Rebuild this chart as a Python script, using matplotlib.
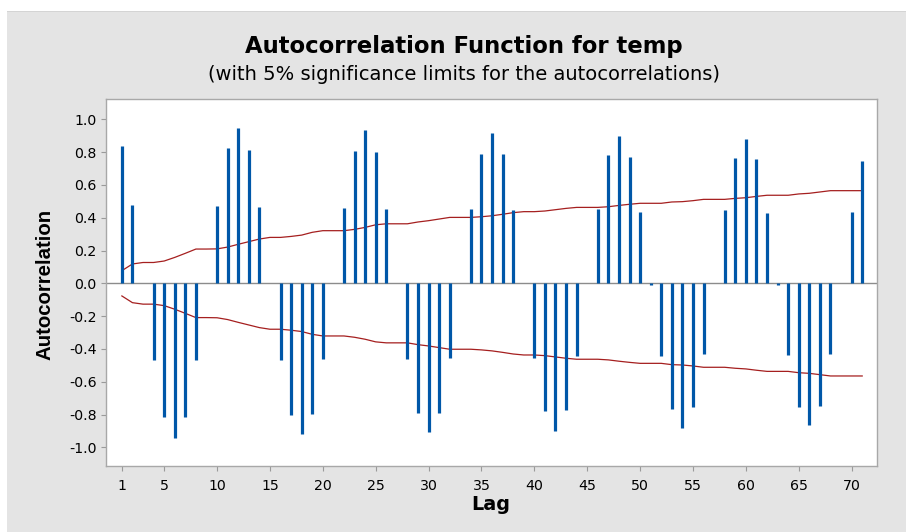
import numpy as np
import matplotlib
matplotlib.use("Agg")
import matplotlib.pyplot as plt
from matplotlib.patches import Rectangle

lags = np.arange(1, 72)
acf = [0.839, 0.477, 0.005, -0.468, -0.813, -0.941, -0.813, -0.468, 0.005, 0.471,
       0.823, 0.949, 0.815, 0.463, 0.005, -0.468, -0.805, -0.921, -0.797, -0.462,
       0.003, 0.461, 0.807, 0.933, 0.799, 0.453, 0.003, -0.462, -0.789, -0.909,
       -0.789, -0.453, 0.003, 0.453, 0.790, 0.915, 0.790, 0.445, 0.002, -0.453,
       -0.781, -0.899, -0.773, -0.445, 0.002, 0.453, 0.782, 0.898, 0.772, 0.435,
       -0.008, -0.445, -0.765, -0.882, -0.754, -0.429, 0.002, 0.445, 0.764, 0.882,
       0.756, 0.427, -0.008, -0.437, -0.754, -0.864, -0.746, -0.429, 0.002, 0.435,
       0.748]
upper = [0.077, 0.118, 0.127, 0.127, 0.136, 0.158, 0.183, 0.209, 0.209, 0.210,
         0.221, 0.238, 0.254, 0.270, 0.280, 0.280, 0.286, 0.294, 0.311, 0.321,
         0.321, 0.321, 0.329, 0.341, 0.357, 0.363, 0.363, 0.363, 0.374, 0.382,
         0.392, 0.402, 0.402, 0.402, 0.406, 0.412, 0.421, 0.431, 0.437, 0.437,
         0.441, 0.449, 0.457, 0.463, 0.463, 0.463, 0.467, 0.475, 0.482, 0.488,
         0.488, 0.488, 0.496, 0.498, 0.504, 0.512, 0.512, 0.512, 0.518, 0.522,
         0.530, 0.537, 0.537, 0.537, 0.545, 0.549, 0.557, 0.565, 0.565, 0.565,
         0.565]
lower = [-0.077, -0.118, -0.127, -0.127, -0.136, -0.158, -0.183, -0.209, -0.209, -0.210,
         -0.221, -0.238, -0.254, -0.270, -0.280, -0.280, -0.286, -0.294, -0.311, -0.321,
         -0.321, -0.321, -0.329, -0.341, -0.357, -0.363, -0.363, -0.363, -0.374, -0.382,
         -0.392, -0.402, -0.402, -0.402, -0.406, -0.412, -0.421, -0.431, -0.437, -0.437,
         -0.441, -0.449, -0.457, -0.463, -0.463, -0.463, -0.467, -0.475, -0.482, -0.488,
         -0.488, -0.488, -0.496, -0.498, -0.504, -0.512, -0.512, -0.512, -0.518, -0.522,
         -0.530, -0.537, -0.537, -0.537, -0.545, -0.549, -0.557, -0.565, -0.565, -0.565,
         -0.565]
xticks = [1, 5, 10, 15, 20, 25, 30, 35, 40, 45, 50, 55, 60, 65, 70]
yticks = [1.0, 0.8, 0.6, 0.4, 0.2, 0.0, -0.2, -0.4, -0.6, -0.8, -1.0]

W, H = 906, 532
fig = plt.figure(figsize=(W / 100, H / 100), dpi=100)
fig.patch.set_facecolor("white")
fig.patches.append(Rectangle((7 / W, 0), 1 - 7 / W, 1 - 11 / H, transform=fig.transFigure,
                             facecolor="#e4e4e4", edgecolor="none", zorder=-10))
fig.patches.append(Rectangle((7 / W, 1 - 12 / H), 1 - 7 / W, 1.2 / H, transform=fig.transFigure,
                             facecolor="#d4d4d4", edgecolor="none", zorder=-9))

ax = fig.add_axes([106 / W, 1 - 466 / H, (877 - 106) / W, (466 - 99) / H])
ax.set_facecolor("white")

ax.axhline(0, color="#8c8c8c", lw=1.0, zorder=1)
ax.vlines(lags, 0, acf, colors="#0057a8", lw=2.3, zorder=3)
ax.plot(lags, upper, color="#a51f1f", lw=0.9, zorder=2)
ax.plot(lags, lower, color="#a51f1f", lw=0.9, zorder=2)

ax.set_xlim(-0.5, 72.4)
ax.set_ylim(-1.114, 1.124)
ax.set_xticks(xticks)
ax.set_xticklabels([str(t) for t in xticks])
ax.set_yticks(yticks)
ax.set_yticklabels([f"{t:.1f}" for t in yticks])

for s in ax.spines.values():
    s.set_color("#a8a8a8")
    s.set_linewidth(1.0)

ax.tick_params(axis="both", direction="out", color="#9a9a9a", length=3.6, width=0.8,
               labelsize=10.2, labelcolor="black")
ax.tick_params(axis="y", pad=3.2)
ax.tick_params(axis="x", pad=5.5)

fig.text(464 / W, 1 - 46.5 / H, "Autocorrelation Function for temp", ha="center", va="center",
         fontsize=16.4, fontweight="bold", color="black")
fig.text(464 / W, 1 - 75 / H, "(with 5% significance limits for the autocorrelations)",
         ha="center", va="center", fontsize=14.0, color="black")
fig.text(491 / W, 1 - 505 / H, "Lag", ha="center", va="center", fontsize=13.8,
         fontweight="bold", color="black")
fig.text(45 / W, 1 - 284 / H, "Autocorrelation", ha="center", va="center", rotation=90,
         fontsize=14.7, fontweight="bold", family="Liberation Sans", color="black")

fig.savefig("out.png", dpi=100, facecolor=fig.get_facecolor())
